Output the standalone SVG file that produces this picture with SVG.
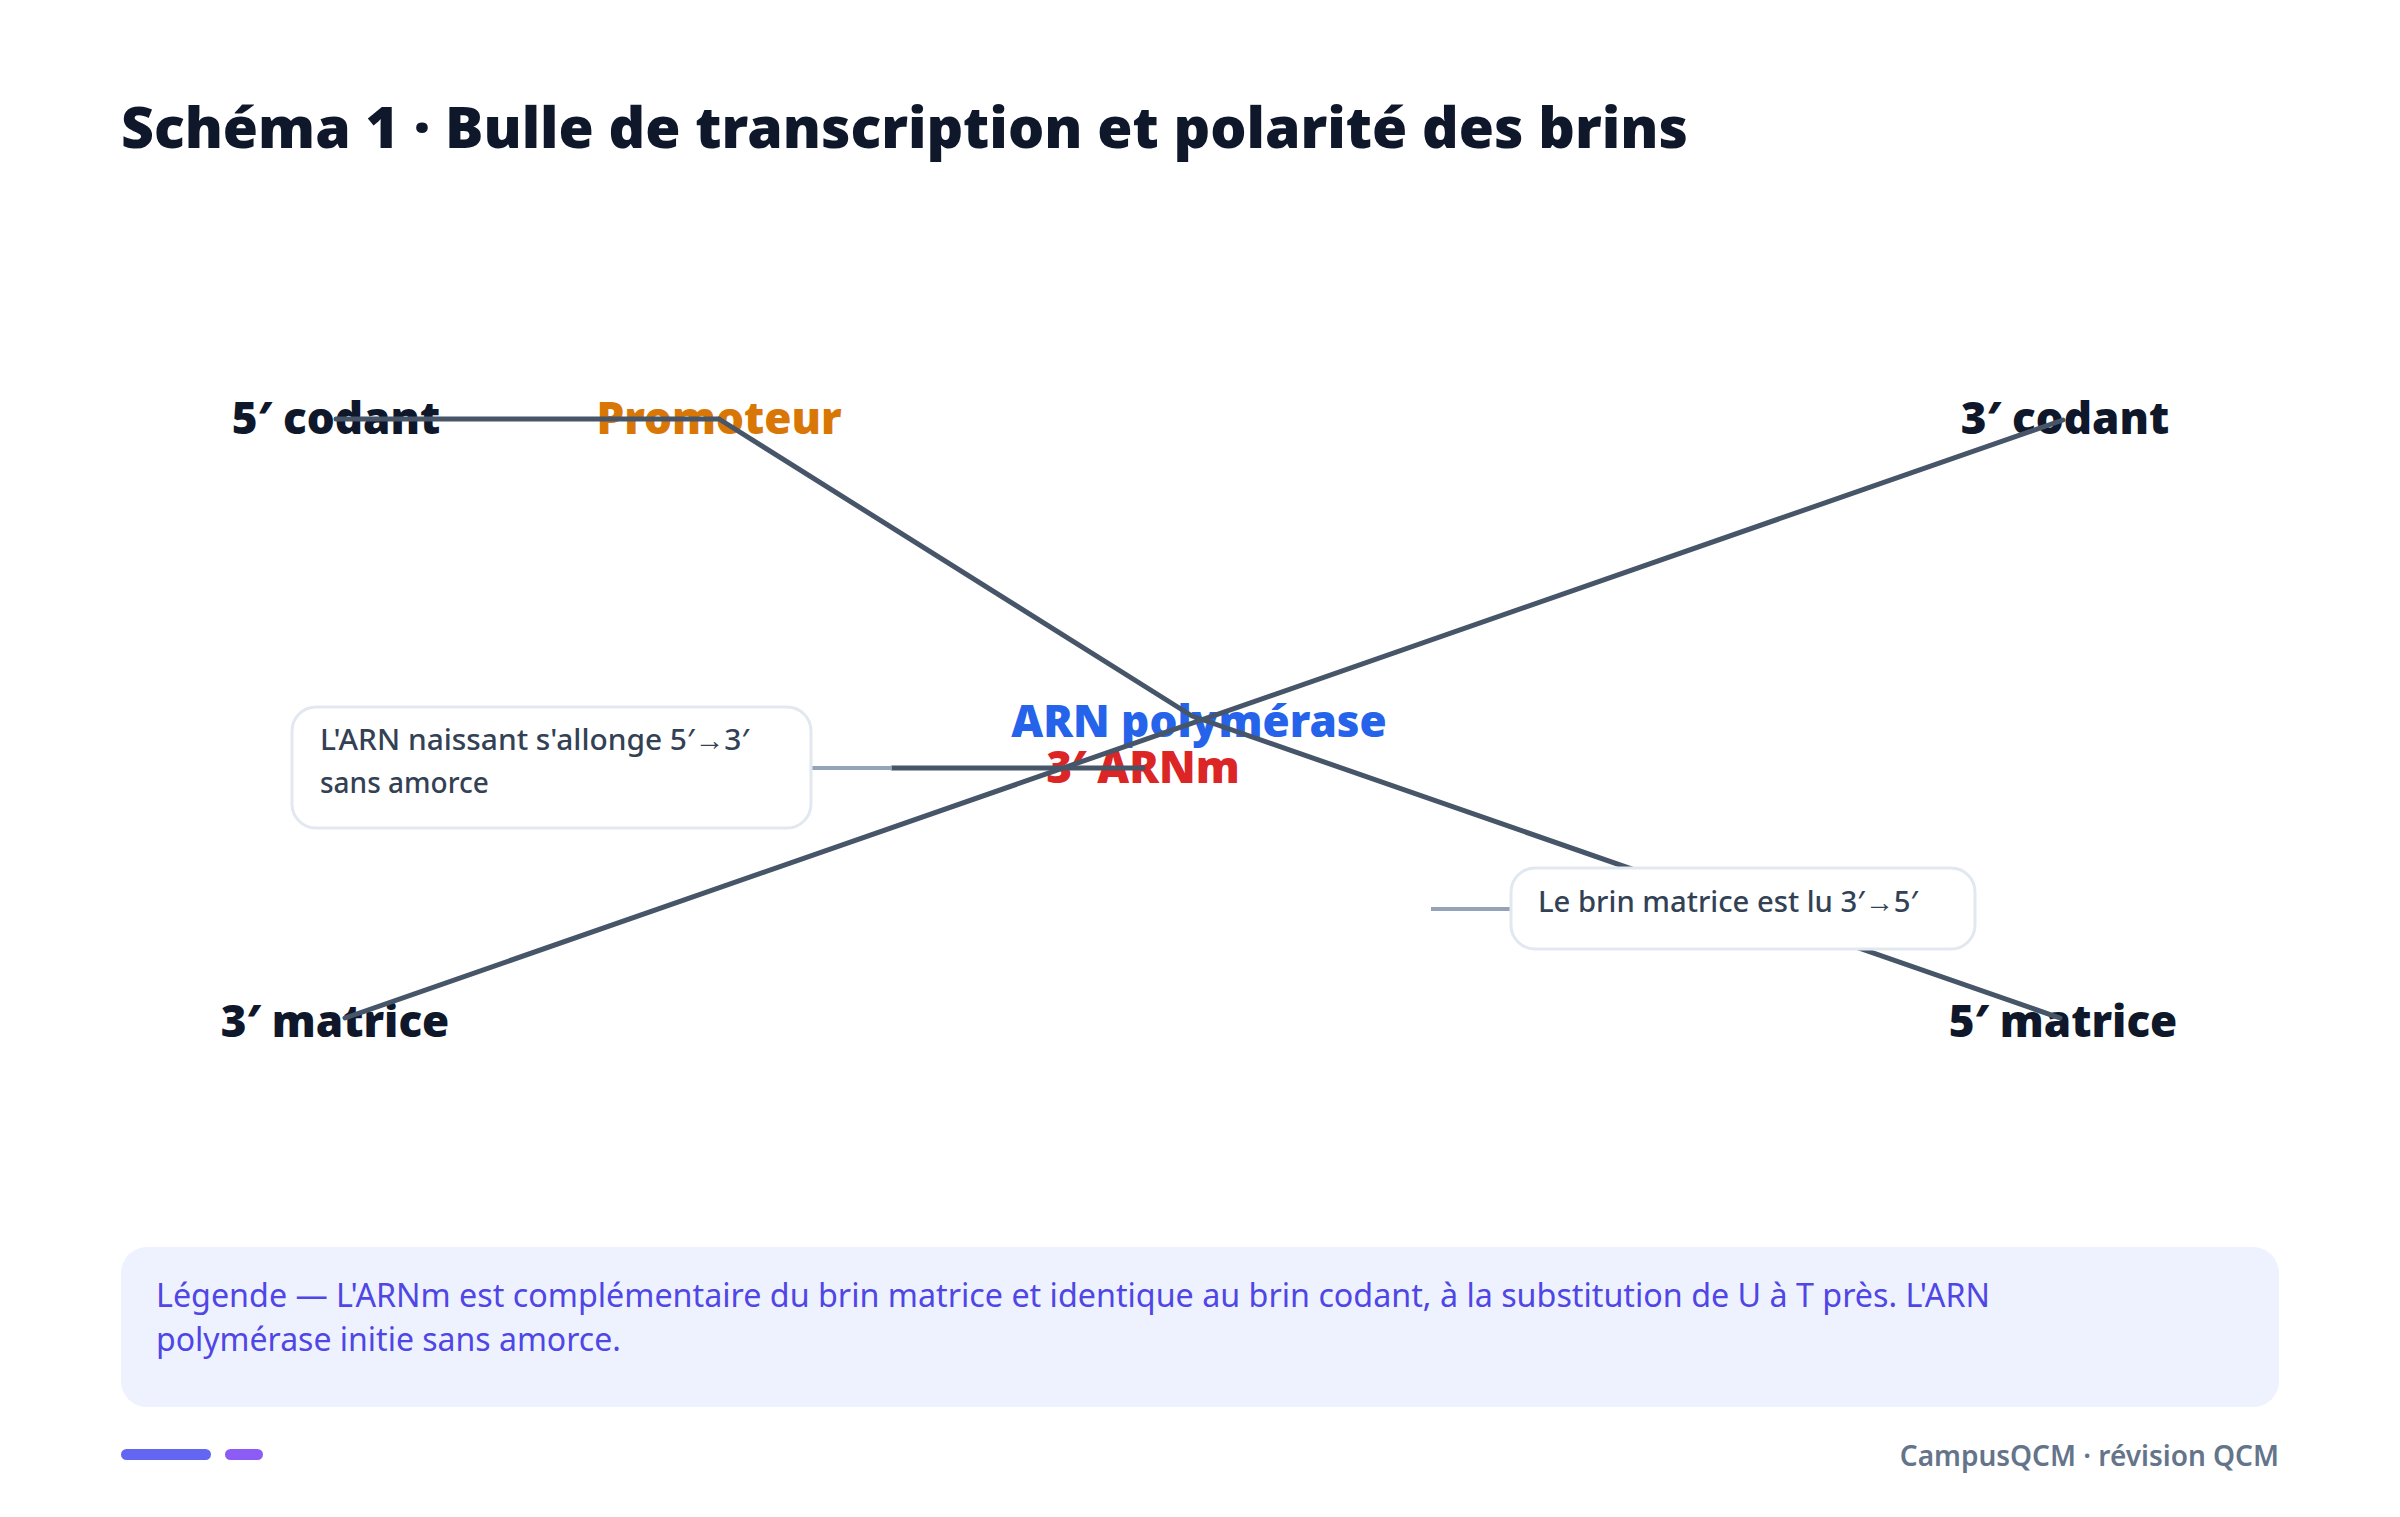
<svg xmlns="http://www.w3.org/2000/svg" width="2400" height="1517" viewBox="0 0 2400 1517">
<style>
.title{font-family:"Noto Sans","Open Sans",sans-serif;font-weight:900;font-size:57px;fill:#0f172a}
.end{font-family:"Noto Sans","Open Sans",sans-serif;font-weight:900;font-size:44px;fill:#0f172a}
.lbl{font-family:"Noto Sans","Open Sans",sans-serif;font-weight:900;font-size:44px}
.strand{stroke:#475569;stroke-width:5;fill:none;stroke-linecap:round;stroke-linejoin:round}
.leader{stroke:#94a3b8;stroke-width:4;fill:none}
.callout rect{fill:#ffffff;stroke:#e2e8f0;stroke-width:3}
.callout text{font-family:"Noto Sans","Open Sans",sans-serif;font-weight:500;font-size:28px;fill:#334155}
.legend{font-family:"Noto Sans","Open Sans",sans-serif;font-size:32px;fill:#4f46e5}
.foot{font-family:"Noto Sans","Open Sans",sans-serif;font-weight:600;font-size:28px;fill:#64748b}
</style>
<rect width="2400" height="1517" fill="#ffffff"/>
<text class="title" x="121" y="148" textLength="1567" lengthAdjust="spacingAndGlyphs">Schéma 1 · Bulle de transcription et polarité des brins</text>

<g id="n-5codant"><text class="end" x="336" y="434" text-anchor="middle">5′ codant</text></g>
<g id="n-promoteur"><text class="lbl" x="719" y="434" text-anchor="middle" fill="#d97706">Promoteur</text></g>
<g id="n-3codant"><text class="end" x="2065" y="434" text-anchor="middle">3′ codant</text></g>
<g id="n-3matrice"><text class="end" x="335" y="1037" text-anchor="middle">3′ matrice</text></g>
<g id="n-5matrice"><text class="end" x="2063" y="1037" text-anchor="middle">5′ matrice</text></g>
<g id="n-polymerase"><text class="lbl" x="1199" y="737" text-anchor="middle" fill="#2563eb">ARN polymérase</text></g>
<g id="n-arnm"><text class="lbl" x="1143" y="783" text-anchor="middle" fill="#dc2626">3′ ARNm</text></g>

<g id="connectors">
<path class="strand" d="M336 419 L719 419 M719 419 L1192 716 L2060 1018"/>
<path class="strand" d="M345 1018 L2063 420"/>
<path class="strand" d="M892 768 L1143 768"/>
<path class="leader" d="M811 768 L892 768"/>
<path class="leader" d="M1431 909 L1511 909"/>
</g>

<g id="callout-1" class="callout">
<rect x="292" y="707" width="519" height="121" rx="24"/>
<text x="320" y="750" textLength="429" lengthAdjust="spacingAndGlyphs">L'ARN naissant s'allonge 5′→3′</text>
<text x="320" y="793">sans amorce</text>
</g>
<g id="callout-2" class="callout">
<rect x="1511" y="868" width="464" height="81" rx="24"/>
<text x="1538" y="912" textLength="380" lengthAdjust="spacingAndGlyphs">Le brin matrice est lu 3′→5′</text>
</g>

<g id="legend">
<rect x="121" y="1247" width="2158" height="160" rx="26" fill="#eef2ff"/>
<text class="legend" x="156" y="1307" textLength="1834" lengthAdjust="spacingAndGlyphs">Légende — L'ARNm est complémentaire du brin matrice et identique au brin codant, à la substitution de U à T près. L'ARN</text>
<text class="legend" x="156" y="1351">polymérase initie sans amorce.</text>
</g>

<g id="footer">
<rect x="121" y="1449" width="90" height="11" rx="5.5" fill="#6366f1"/>
<rect x="225" y="1449" width="38" height="11" rx="5.5" fill="#8b5cf6"/>
<text class="foot" x="2279" y="1466" text-anchor="end">CampusQCM · révision QCM</text>
</g>
</svg>
